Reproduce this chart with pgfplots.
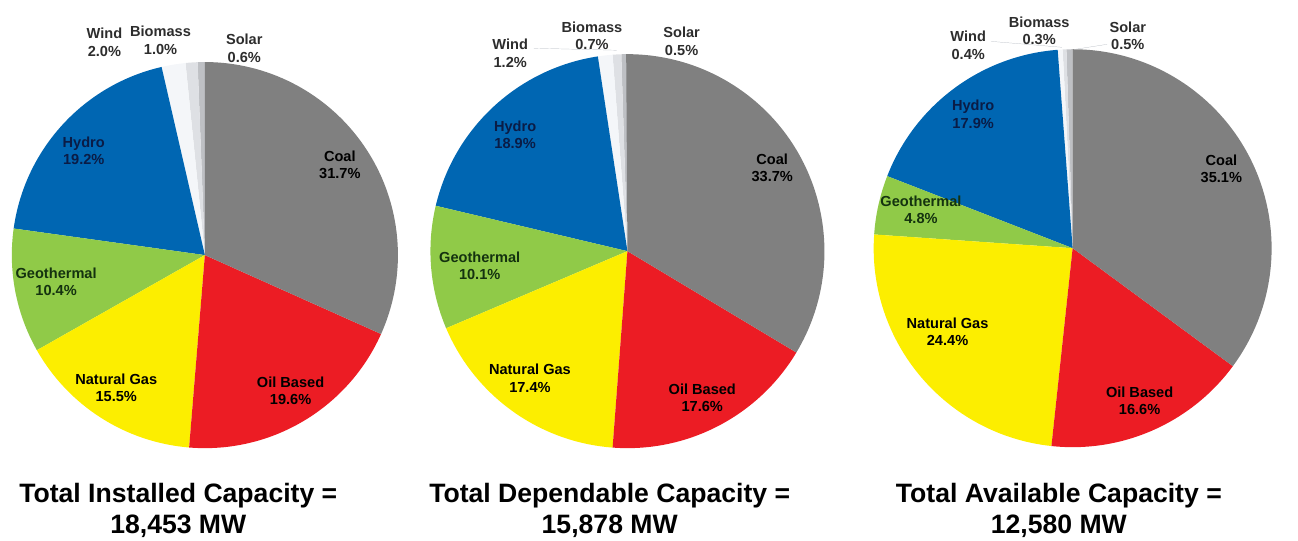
\documentclass[border=0pt]{standalone}
\usepackage{fontspec}
\setmainfont{Liberation Sans}
\usepackage{pgfplots}
\usepackage{pgfplotstable}
\pgfplotsset{compat=1.18}

% slice colours
\definecolor{coalc}{RGB}{128,128,128}
\definecolor{oilc}{RGB}{236,28,36}
\definecolor{gasc}{RGB}{252,238,0}
\definecolor{geoc}{RGB}{144,202,72}
\definecolor{hydroc}{RGB}{0,102,178}
\definecolor{windc}{RGB}{244,246,249}
\definecolor{biomassc}{RGB}{222,224,228}
\definecolor{solarc}{RGB}{190,192,196}
% label colours
\definecolor{hydrotxt}{RGB}{10,28,70}
\definecolor{geotxt}{RGB}{20,50,15}
\definecolor{smalltxt}{RGB}{45,45,45}
\definecolor{leader}{RGB}{170,175,185}

% share in %, slice colour, label colour, label position (pt)
\pgfplotstableread{
name pct col tc lx ly
Solar 0.6 solarc smalltxt 248 493
Biomass 1.0 biomassc smalltxt 163 501
Wind 2.0 windc smalltxt 106 499
Hydro 19.2 hydroc hydrotxt 85 389
Geothermal 10.4 geoc geotxt 57 256
{Natural Gas} 15.5 gasc black 118 148
{Oil Based} 19.6 oilc black 295 145
Coal 31.7 coalc black 345 375
}\installed

\pgfplotstableread{
name pct col tc lx ly
Solar 0.5 solarc smalltxt 692 500
Biomass 0.7 biomassc smalltxt 601 506
Wind 1.2 windc smalltxt 518 488
Hydro 18.9 hydroc hydrotxt 523 405
Geothermal 10.1 geoc geotxt 487 272
{Natural Gas} 17.4 gasc black 538 158
{Oil Based} 17.6 oilc black 713 138
Coal 33.7 coalc black 784 372
}\dependable

\pgfplotstableread{
name pct col tc lx ly
Solar 0.5 solarc smalltxt 1145 506
Biomass 0.3 biomassc smalltxt 1055 511
Wind 0.4 windc smalltxt 983 496
Hydro 17.9 hydroc hydrotxt 988 426
Geothermal 4.8 geoc geotxt 935 329
{Natural Gas} 24.4 gasc black 962 205
{Oil Based} 16.6 oilc black 1157 135
Coal 35.1 coalc black 1240 371
}\available

\newcommand{\lblfont}{\bfseries\fontsize{14.8}{17.5}\selectfont}
\newcommand{\ttlfont}{\bfseries\fontsize{27}{31}\selectfont}

% #1 table, #2 centre x, #3 centre y, #4 radius (pt); slices run
% counter-clockwise from twelve o'clock
\newcommand{\drawpie}[4]{%
  \def\astart{90}%
  \pgfplotsforeachungrouped \k in {0,...,7}{%
    \pgfplotstablegetelem{\k}{pct}\of{#1}\let\slicepct\pgfplotsretval
    \pgfplotstablegetelem{\k}{col}\of{#1}\let\slicecol\pgfplotsretval
    \pgfmathsetmacro{\aend}{\astart+3.6*\slicepct}%
    \edef\slicecmd{\noexpand\fill[\slicecol] (axis cs:#2,#3) --
      (axis cs:{#2+#4*cos(\astart)},{#3+#4*sin(\astart)})
      arc[start angle=\astart, end angle=\aend, radius=#4pt] -- cycle;}%
    \slicecmd
    \let\astart\aend
  }%
  \pgfplotsforeachungrouped \k in {0,...,7}{%
    \pgfplotstablegetelem{\k}{name}\of{#1}\let\slicename\pgfplotsretval
    \pgfplotstablegetelem{\k}{pct}\of{#1}\let\slicepct\pgfplotsretval
    \pgfplotstablegetelem{\k}{tc}\of{#1}\let\slicetc\pgfplotsretval
    \pgfplotstablegetelem{\k}{lx}\of{#1}\let\slicelx\pgfplotsretval
    \pgfplotstablegetelem{\k}{ly}\of{#1}\let\slicely\pgfplotsretval
    \edef\labelcmd{\noexpand\node[font=\noexpand\lblfont, text=\slicetc,
      align=center, inner sep=0pt] at (axis cs:\slicelx,\slicely)
      {\slicename\noexpand\\\slicepct\noexpand\%};}%
    \labelcmd
  }%
}

\begin{document}
\begin{tikzpicture}
\begin{axis}[
  x=1pt, y=1pt,
  xmin=0, xmax=1298, ymin=0, ymax=542,
  at={(0,0)}, anchor=south west,
  hide axis, clip=false,
]
\drawpie{\installed}{208}{283}{196}
\drawpie{\dependable}{637}{287}{200}
\drawpie{\available}{1089}{290}{202}

% leader lines for the thinnest slices
\draw[leader, very thin] (axis cs:542,493) -- (axis cs:626,491);
\draw[leader, very thin] (axis cs:1006,500) -- (axis cs:1078,494);
\draw[leader, very thin] (axis cs:1124,497) -- (axis cs:1092,492);

\node[font=\ttlfont, align=center] at (axis cs:181,24)
  {Total Installed Capacity =\\18,453 MW};
\node[font=\ttlfont, align=center] at (axis cs:619,24)
  {Total Dependable Capacity =\\15,878 MW};
\node[font=\ttlfont, align=center] at (axis cs:1075,24)
  {Total Available Capacity =\\12,580 MW};
\end{axis}
\path (0,0) rectangle (1298pt,542pt);
\end{tikzpicture}
\end{document}
